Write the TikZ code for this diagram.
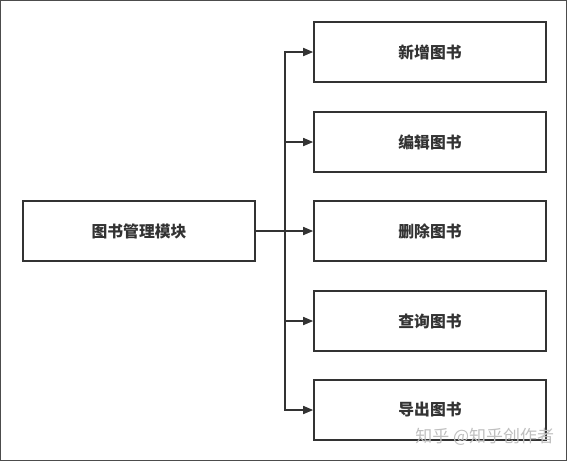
\documentclass[tikz,border=0pt]{standalone}
\usepackage{fontspec}
\setmainfont{Noto Sans CJK SC}
\usepackage{tikz}
\usetikzlibrary{arrows.meta}
\usetikzlibrary{positioning}

\definecolor{linegray}{HTML}{333333}

\begin{document}
\begin{tikzpicture}[x=1pt, y=-1pt]
            \tikzset{every node/.style={rectangle, draw=linegray, line width=1.6pt,
                        minimum width=232pt, minimum height=60pt,
                        text=linegray, font=\fontsize{15.8}{18}\selectfont\bfseries},
                    >={Triangle[length=10pt, width=8pt]},
                    link/.style={draw=linegray, line width=1.6pt}}
            \useasboundingbox (0, 0) rectangle (569, 463);
            \draw[black!70, line width=1pt] (0.5, 0.5) rectangle (566, 460);
            \node (m) at (139, 231) {图书管理模块};
            \node (b1) at (430, 52) {新增图书};
            \node (b2) at (430, 142) {编辑图书};
            \node (b3) at (430, 231) {删除图书};
            \node (b4) at (430, 321) {查询图书};
            \node (b5) at (430, 410) {导出图书};
            \coordinate (j) at (285, 231);
            \path [link] (m) -- (j);
            \path [link, ->] (j) |- (b1);
            \path [link, ->] (j) |- (b2);
            \path [link, ->] (j) -- (b3);
            \path [link, ->] (j) |- (b4);
            \path [link, ->] (j) |- (b5);
            \node[draw=none, minimum size=0pt, inner sep=0pt, text=black!25,
                font=\fontsize{17}{19}\selectfont, anchor=east] (wm) at (555, 437) {知乎 @知乎创作者};
        \end{tikzpicture}
\end{document}
